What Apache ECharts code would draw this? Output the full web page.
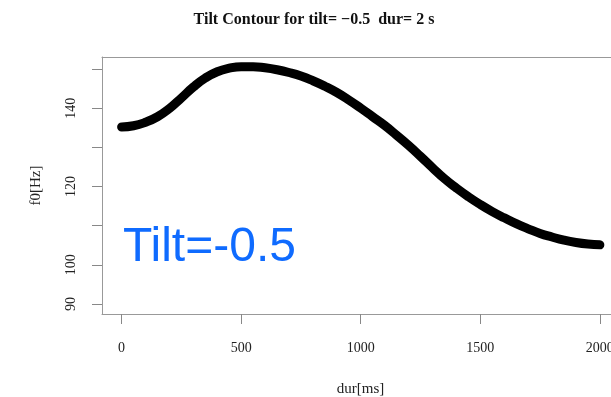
<!DOCTYPE html>
<html>
<head>
<meta charset="utf-8">
<script src="https://cdn.jsdelivr.net/npm/echarts@6/dist/echarts.min.js"></script>
<style>html,body{margin:0;padding:0;background:#fff}#c{width:611px;height:397px}</style>
</head>
<body>
<div id="c"></div>
<script>
var durMs = [0, 50, 100, 150, 200, 250, 300, 350, 400, 450, 500, 550, 600, 650, 700, 750, 800, 850, 900, 950, 1000,
             1050, 1100, 1150, 1200, 1250, 1300, 1350, 1400, 1450, 1500, 1550, 1600, 1650, 1700, 1750, 1800, 1850, 1900, 1950, 2000];
var f0Hz  = [135.2, 135.5, 136.4, 137.8, 139.9, 142.6, 145.4, 147.7, 149.3, 150.2, 150.6, 150.6, 150.3, 149.8, 149.1, 148.2, 147.0, 145.6, 144.0, 142.1, 140.0,
             137.8, 135.6, 133.1, 130.5, 127.7, 124.8, 122.0, 119.6, 117.4, 115.4, 113.6, 112.0, 110.5, 109.2, 108.0, 107.1, 106.3, 105.7, 105.3, 105.1];
var xTicks = [0, 500, 1000, 1500, 2000];
var yTicks = [90, 100, 110, 120, 130, 140, 150];
var yLabels = [90, 100, 120, 140];
var titleText = 'Tilt Contour for tilt= \u22120.5  dur= 2 s';
var annotation = 'Tilt=-0.5';

var chart = echarts.init(document.getElementById('c'), null, {renderer: 'canvas'});
var serif = '"Liberation Serif", "DejaVu Serif", serif';
var boxLine = {show: true, onZero: false, lineStyle: {color: '#999', width: 1}};
chart.setOption({
  animation: false,
  backgroundColor: '#fff',
  title: {
    text: titleText, left: 309, top: 7, textAlign: 'center',
    textStyle: {fontFamily: serif, fontWeight: 'bold', fontSize: 16, color: '#111'}
  },
  grid: {left: 102, top: 57, width: 517, height: 257, show: false, containLabel: false, outerBoundsMode: 'none'},
  xAxis: [{
    type: 'value', min: -82, max: 2080, position: 'bottom',
    name: 'dur[ms]', nameLocation: 'middle', nameGap: 68,
    nameTextStyle: {fontFamily: serif, fontSize: 15, color: '#222'},
    axisLine: boxLine,
    splitLine: {show: false},
    axisTick: {show: true, length: 10, customValues: xTicks, lineStyle: {color: '#888'}},
    axisLabel: {customValues: xTicks, margin: 27, fontFamily: serif, fontSize: 14, color: '#222',
                formatter: function (v) { return String(v); }}
  }, {
    type: 'value', min: -82, max: 2080, position: 'top',
    axisLine: boxLine, axisTick: {show: false}, axisLabel: {show: false}, splitLine: {show: false}
  }],
  yAxis: {
    type: 'value', min: 87.45, max: 153.06,
    name: 'f0[Hz]', nameLocation: 'middle', nameGap: 58, nameRotate: 90,
    nameTextStyle: {fontFamily: serif, fontSize: 15, color: '#222'},
    axisLine: boxLine,
    splitLine: {show: false},
    axisTick: {show: true, length: 10, customValues: yTicks, lineStyle: {color: '#888'}},
    axisLabel: {customValues: yLabels, rotate: 90, margin: 24, fontFamily: serif, fontSize: 14, color: '#222',
                formatter: function (v) { return String(v); }}
  },
  series: [{
    type: 'line',
    xAxisIndex: 0,
    data: durMs.map(function (d, i) { return [d, f0Hz[i]]; }),
    smooth: true,
    showSymbol: false,
    lineStyle: {color: '#000', width: 9, cap: 'round', join: 'round'}
  }],
  graphic: [{
    type: 'text', left: 123, top: 224,
    style: {text: annotation, fill: '#0F6BFF', font: '48px "Liberation Sans", Arial, sans-serif'}
  }]
});
</script>
</body>
</html>
